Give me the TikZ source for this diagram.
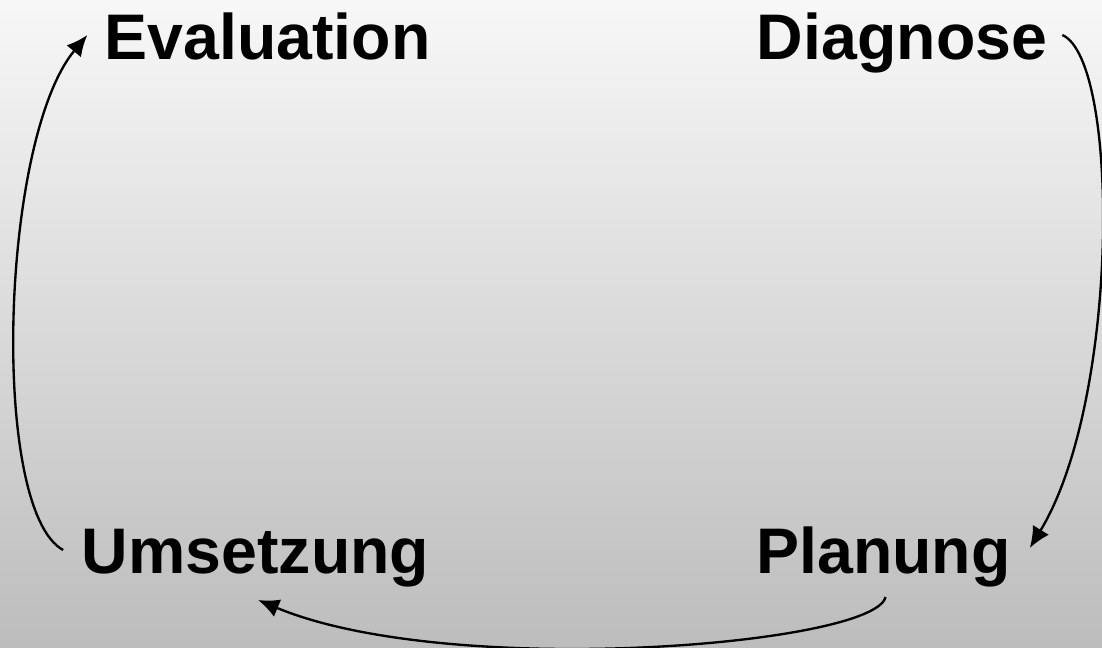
\documentclass[tikz,border=0pt]{standalone}
\usepackage{fontspec}
\setmainfont{Liberation Sans}
\usetikzlibrary{arrows.meta,calc}

\begin{document}
\begin{tikzpicture}[x=0.03cm,y=-0.03cm,
  phase/.style={font=\fontsize{55}{66}\selectfont\bfseries, inner sep=0pt, anchor=base},
  zyklus/.style={line width=2pt, -{Latex[length=18pt,width=16pt]}}]
\useasboundingbox (0,0) rectangle (1102,647);
% Hintergrund
\shade[top color=white!97!black, bottom color=white!74!black] (0,0) rectangle (1102,647);

% Phasen
\node[phase] (eval) at (267.5,60) {Evaluation};
\node[phase] (diag) at (902,60) {Diagnose};
\node[phase] (ums) at (255.5,573) {Umsetzung};
\node[phase] (plan) at (883.5,573) {Planung};

% Kreislauf
\draw[zyklus] ($(diag.base east)+(15,-25)$) .. controls (1120,60) and (1120,400) .. ($(plan.base east)+(19,-25)$);
\draw[zyklus] ($(plan.base)+(2,24)$) .. controls (875,645) and (450,680) .. ($(ums.base)+(2.5,27)$);
\draw[zyklus] ($(ums.base west)+(-18.5,-23)$) .. controls (-10,510) and (0,140) .. ($(eval.base west)+(-17,-25)$);
\end{tikzpicture}
\end{document}
